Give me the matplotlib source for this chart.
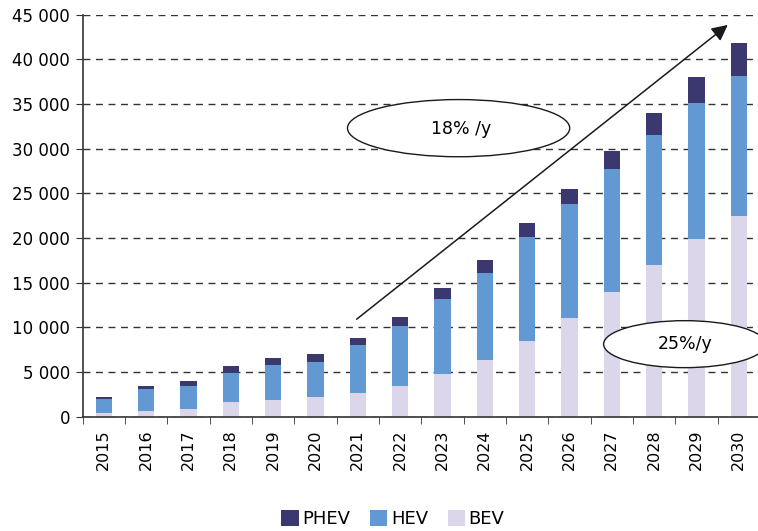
import numpy as np
import matplotlib
matplotlib.use('Agg')
import matplotlib.pyplot as plt
from matplotlib.patches import Ellipse
from matplotlib.ticker import FuncFormatter, FixedLocator

# values (top of each stacked level)
years = ['2015', '2016', '2017', '2018', '2019', '2020', '2021', '2022',
         '2023', '2024', '2025', '2026', '2027', '2028', '2029', '2030']
bev = [450, 600, 900, 1680, 1900, 2200, 2610, 3470,
       4780, 6350, 8510, 11050, 13960, 16990, 19900, 22430]
hev_top = [1980, 3130, 3470, 4850, 5820, 6160, 8020, 10150,
           13140, 16090, 20080, 23820, 27740, 31540, 35090, 38150]
total = [2240, 3470, 4030, 5640, 6530, 7020, 8810, 11120,
         14370, 17500, 21690, 25500, 29750, 33970, 38070, 41810]

hev = [h - b for h, b in zip(hev_top, bev)]
phev = [t - h for t, h in zip(total, hev_top)]

c_phev = '#3b3870'
c_hev = '#6399d2'
c_bev = '#dbd6ea'

plt.rcParams['font.family'] = ['DejaVu Sans']

fig = plt.figure(figsize=(7.58, 5.31), dpi=100)
ax = fig.add_axes([82.7 / 758, 1 - 416.7 / 531, (760 - 82.7) / 758, (416.7 - 14.7) / 531])

x = np.arange(len(years))
w = 0.39
ax.bar(x, bev, w, color=c_bev, label='BEV', zorder=2)
ax.bar(x, hev, w, bottom=bev, color=c_hev, label='HEV', zorder=2)
ax.bar(x, phev, w, bottom=hev_top, color=c_phev, label='PHEV', zorder=2)

ax.set_xlim(-0.5, len(years) - 0.5)
ax.set_ylim(0, 45000)
ax.set_yticks(np.arange(0, 45001, 5000))
ax.yaxis.set_major_formatter(FuncFormatter(lambda v, p: f'{int(v):,}'.replace(',', ' ')))
ax.yaxis.grid(True, linestyle=(0, (5, 4)), color='#333333', linewidth=1.0, zorder=0)
ax.set_axisbelow(True)

ax.set_xticks(x)
ax.set_xticklabels(years, rotation=90, fontsize=11.5)
ax.xaxis.set_minor_locator(FixedLocator(np.arange(-0.5, len(years) + 0.5, 1)))
ax.tick_params(axis='x', which='major', length=0, pad=9)
ax.tick_params(axis='x', which='minor', length=5, color='#333333', direction='out')
ax.tick_params(axis='y', length=5, color='#333333', labelsize=12, pad=4)

for s in ['top', 'right']:
    ax.spines[s].set_visible(False)
ax.spines['left'].set_color('#333333')
ax.spines['bottom'].set_color('#333333')
ax.spines['left'].set_linewidth(1.2)
ax.spines['bottom'].set_linewidth(1.2)

# growth annotations
ax.annotate('', xy=(14.79, 44050), xytext=(5.92, 10720),
            arrowprops=dict(arrowstyle='-|>', color='#1a1a1a', lw=1.1,
                            mutation_scale=24), zorder=5)

e1 = Ellipse((8.38, 32300), 5.25, 6400, facecolor='white',
             edgecolor='#1a1a1a', lw=1.0, zorder=4)
ax.add_patch(e1)
ax.text(8.45, 32200, '18% /y', ha='center', va='center', fontsize=12.5, zorder=6)

e2 = Ellipse((13.72, 8120), 3.83, 5260, facecolor='white',
             edgecolor='#1a1a1a', lw=1.0, zorder=4, clip_on=False)
ax.add_patch(e2)
ax.text(13.73, 8100, '25%/y', ha='center', va='center', fontsize=12.5, zorder=6)

handles, labels = ax.get_legend_handles_labels()
order = [2, 1, 0]
fig.legend([handles[i] for i in order], [labels[i] for i in order],
           loc='center', bbox_to_anchor=(393 / 758, 1 - 519 / 531), ncol=3,
           frameon=False, fontsize=13, handlelength=0.95, handleheight=0.95,
           handletextpad=0.2, columnspacing=1.1)

fig.savefig('out.png', dpi=100)
